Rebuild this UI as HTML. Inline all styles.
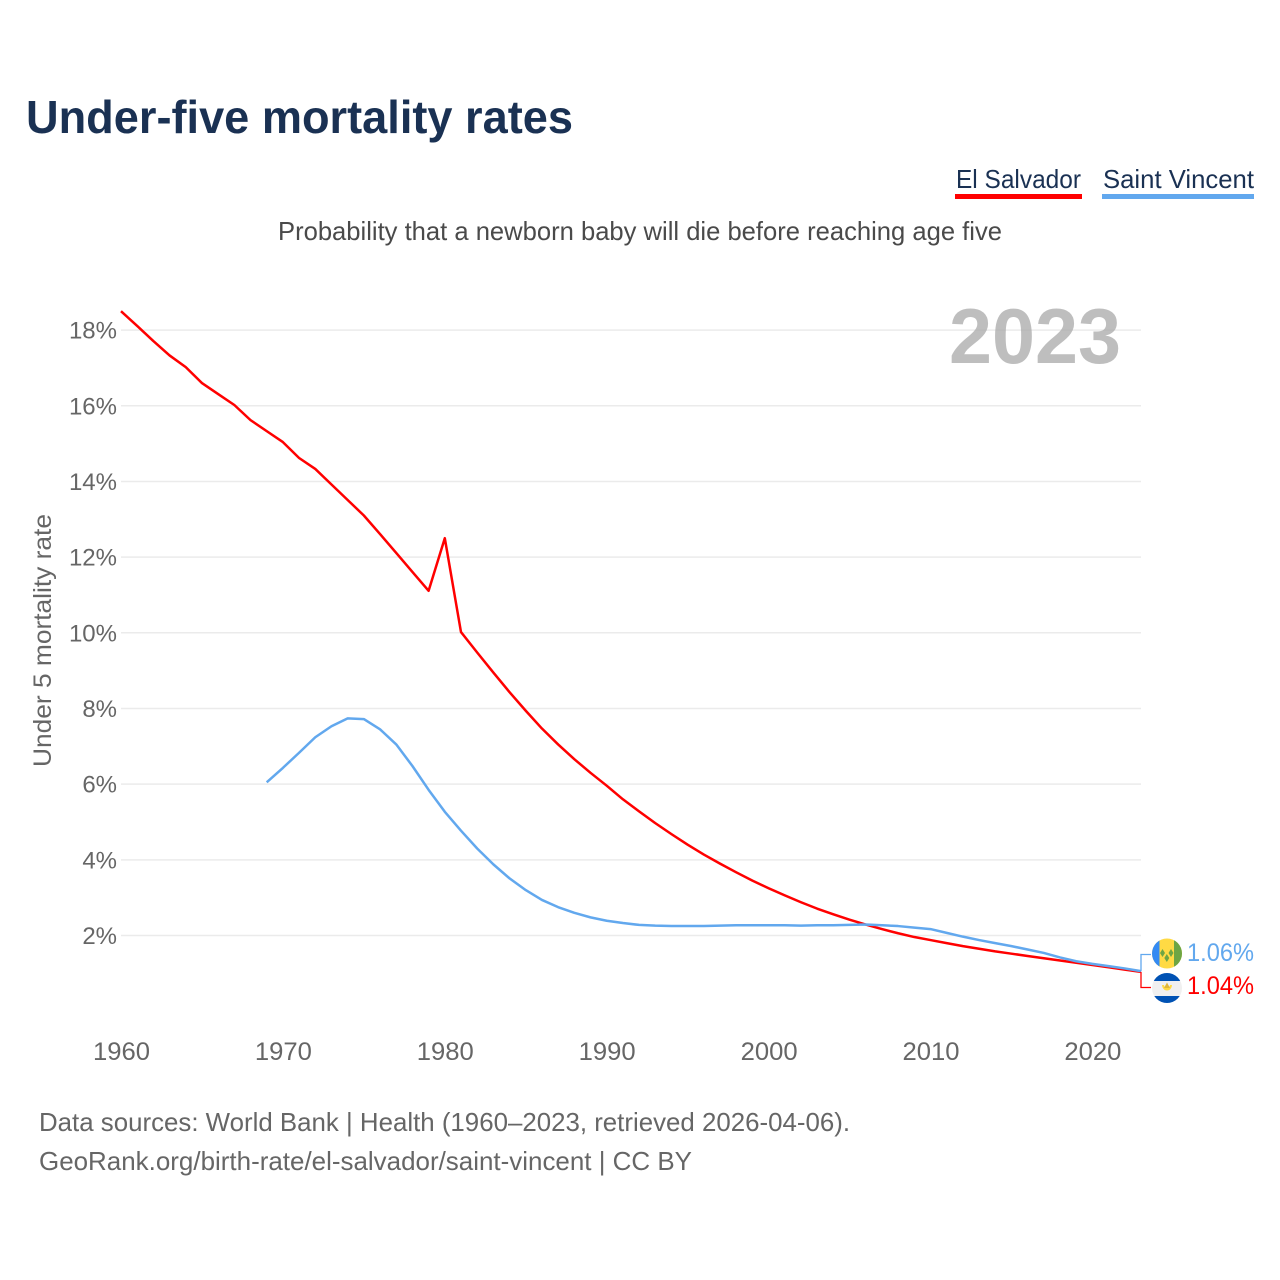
<!DOCTYPE html>
<html lang="en">
<head>
<meta charset="utf-8">
<title>Under-five mortality rates</title>
<style>
html,body{margin:0;padding:0;background:#fff;}
svg{display:block;font-family:"Liberation Sans",sans-serif;}
</style>
</head>
<body>
<svg id="chart" xmlns="http://www.w3.org/2000/svg" width="1280" height="1280" viewBox="0 0 1280 1280">
  <defs>
    <clipPath id="flag-clip-a"><circle cx="1167" cy="953.5" r="15"/></clipPath>
    <clipPath id="flag-clip-b"><circle cx="1167" cy="988" r="15"/></clipPath>
  </defs>
  <rect width="1280" height="1280" fill="#ffffff"/>
  <text x="26" y="133" font-size="46" font-weight="700" fill="#1a3153" textLength="547" lengthAdjust="spacingAndGlyphs">Under-five mortality rates</text>

  <g>
    <text x="956" y="188" font-size="26" fill="#1a3153" textLength="125" lengthAdjust="spacingAndGlyphs">El Salvador</text>
    <rect x="955" y="194" width="127" height="5" fill="#ff0000"/>
  </g>
  <g>
    <text x="1103" y="188" font-size="26" fill="#1a3153" textLength="151" lengthAdjust="spacingAndGlyphs">Saint Vincent</text>
    <rect x="1102" y="194" width="152" height="5" fill="#62a8ee"/>
  </g>

  <text x="278" y="240" font-size="26" fill="#4a4a4a" textLength="724" lengthAdjust="spacingAndGlyphs">Probability that a newborn baby will die before reaching age five</text>

  <g id="grid"></g>
  <g id="yticks"></g>
  <g id="xticks"></g>

  <text x="949" y="363" font-size="78" font-weight="700" fill="#a8a8a8" fill-opacity="0.75" textLength="172" lengthAdjust="spacingAndGlyphs">2023</text>

  <text transform="translate(51,767) rotate(-90)" x="0" y="0" font-size="25" fill="#666666" textLength="253" lengthAdjust="spacingAndGlyphs">Under 5 mortality rate</text>

  <g id="series"></g>
  <g id="endlabels"></g>

  <g clip-path="url(#flag-clip-a)">
    <rect x="1152" y="938" width="30" height="31" fill="#ffda44"/>
    <rect x="1152" y="938" width="7.5" height="31" fill="#338af3"/>
    <rect x="1174" y="938" width="8" height="31" fill="#6da544"/>
    <polygon points="1162.5,949 1165,953 1162.5,957 1160,953" fill="#6da544"/>
    <polygon points="1171,949 1173.5,953 1171,957 1168.5,953" fill="#6da544"/>
    <polygon points="1166.8,954 1169.3,958 1166.8,962 1164.3,958" fill="#6da544"/>
  </g>
  <g clip-path="url(#flag-clip-b)">
    <rect x="1152" y="973" width="30" height="30" fill="#f0f0f0"/>
    <rect x="1152" y="973" width="30" height="8" fill="#0052b4"/>
    <rect x="1152" y="996" width="30" height="7" fill="#0052b4"/>
    <path d="M1162 985 a5 5.5 0 0 0 10 0 l-2 0 a3 3 0 0 1 -6 0 z" fill="#ffda44"/>
    <polygon points="1167,982.5 1170,988 1164,988" fill="#e0b83a"/>
  </g>

  <text x="39" y="1131" font-size="26" fill="#666666" textLength="811" lengthAdjust="spacingAndGlyphs">Data sources: World Bank | Health (1960–2023, retrieved 2026-04-06).</text>
  <text x="39" y="1170" font-size="26" fill="#666666" textLength="653" lengthAdjust="spacingAndGlyphs">GeoRank.org/birth-rate/el-salvador/saint-vincent | CC BY</text>
</svg>
<script>
var startYear = 1960;
var yTickValues = [2, 4, 6, 8, 10, 12, 14, 16, 18];
var xTickYears = [1960, 1970, 1980, 1990, 2000, 2010, 2020];
var elSalvadorValues = [18.50, 18.11, 17.71, 17.33, 17.02, 16.60, 16.31, 16.02, 15.62, 15.33,
  15.04, 14.62, 14.33, 13.92, 13.51, 13.10, 12.61, 12.11, 11.61, 11.11,
  12.50, 10.02, 9.48, 8.95, 8.43, 7.94, 7.47, 7.05, 6.66, 6.30,
  5.96, 5.60, 5.28, 4.97, 4.68, 4.40, 4.14, 3.90, 3.67, 3.45,
  3.25, 3.06, 2.88, 2.71, 2.56, 2.42, 2.29, 2.17, 2.06, 1.96,
  1.88, 1.80, 1.72, 1.65, 1.58, 1.52, 1.46, 1.40, 1.34, 1.28,
  1.22, 1.16, 1.10, 1.04];
var saintVincentStartYear = 1969;
var saintVincentValues = [6.05, 6.43, 6.83, 7.24, 7.53, 7.74, 7.72, 7.45, 7.05, 6.48,
  5.85, 5.27, 4.77, 4.30, 3.88, 3.51, 3.20, 2.94, 2.75, 2.60,
  2.48, 2.39, 2.33, 2.28, 2.26, 2.25, 2.25, 2.25, 2.26, 2.27,
  2.27, 2.27, 2.27, 2.26, 2.27, 2.27, 2.28, 2.29, 2.27, 2.25,
  2.21, 2.17, 2.07, 1.97, 1.88, 1.80, 1.72, 1.63, 1.54, 1.42,
  1.32, 1.25, 1.19, 1.13, 1.06];

var NS = 'http://www.w3.org/2000/svg';
function xScale(year) { return 121 + (year - 1960) * 16.19; }
function yScale(v) { return 1011.2 - v * 37.84; }
function make(tag, attrs, parent) {
  var el = document.createElementNS(NS, tag);
  for (var k in attrs) { el.setAttribute(k, attrs[k]); }
  parent.appendChild(el);
  return el;
}

var gridG = document.getElementById('grid');
var yG = document.getElementById('yticks');
yTickValues.forEach(function (v) {
  var line = make('line', {x1: 121, x2: 1141, y1: yScale(v), y2: yScale(v), stroke: '#ebebeb', 'stroke-width': 1.5}, gridG);
  
  
  var t = make('text', {x: 117, y: yScale(v) + 8.5, 'font-size': 24, fill: '#666666', 'text-anchor': 'end'}, yG);
  
  
  t.textContent = v + '%';
});

var xG = document.getElementById('xticks');
xTickYears.forEach(function (yr) {
  var t = make('text', {x: xScale(yr) + 0.5, y: 1060, 'font-size': 25, fill: '#666666', 'text-anchor': 'middle', textLength: 57, lengthAdjust: 'spacingAndGlyphs'}, xG);
  
  
  t.textContent = yr;
});

function linePoints(values, firstYear) {
  return values.map(function (v, i) {
    return xScale(firstYear + i).toFixed(2) + ',' + yScale(v).toFixed(2);
  }).join(' ');
}
var seriesG = document.getElementById('series');
var redLine = make('polyline', {points: linePoints(elSalvadorValues, startYear), fill: 'none', stroke: '#ff0000', 'stroke-width': 2.5, 'stroke-linejoin': 'round'}, seriesG);


var blueLine = make('polyline', {points: linePoints(saintVincentValues, saintVincentStartYear), fill: 'none', stroke: '#62a8ee', 'stroke-width': 2.5, 'stroke-linejoin': 'round'}, seriesG);



var endG = document.getElementById('endlabels');
var redLast = elSalvadorValues[elSalvadorValues.length - 1];
var blueLast = saintVincentValues[saintVincentValues.length - 1];
var blueConn = make('polyline', {points: '1141,' + yScale(blueLast) + ' 1141,954.5 1151,954.5', fill: 'none', stroke: '#62a8ee', 'stroke-width': 1.3}, endG);


var redConn = make('polyline', {points: '1141,' + yScale(redLast) + ' 1141,987.5 1151,987.5', fill: 'none', stroke: '#ff0000', 'stroke-width': 1.3}, endG);


var blueLabel = make('text', {x: 1187, y: 961, 'font-size': 25, fill: '#62a8ee', textLength: 67, lengthAdjust: 'spacingAndGlyphs'}, endG);


blueLabel.textContent = blueLast.toFixed(2) + '%';
var redLabel = make('text', {x: 1187, y: 994, 'font-size': 25, fill: '#ff0000', textLength: 67, lengthAdjust: 'spacingAndGlyphs'}, endG);


redLabel.textContent = redLast.toFixed(2) + '%';
</script>
</body>
</html>
